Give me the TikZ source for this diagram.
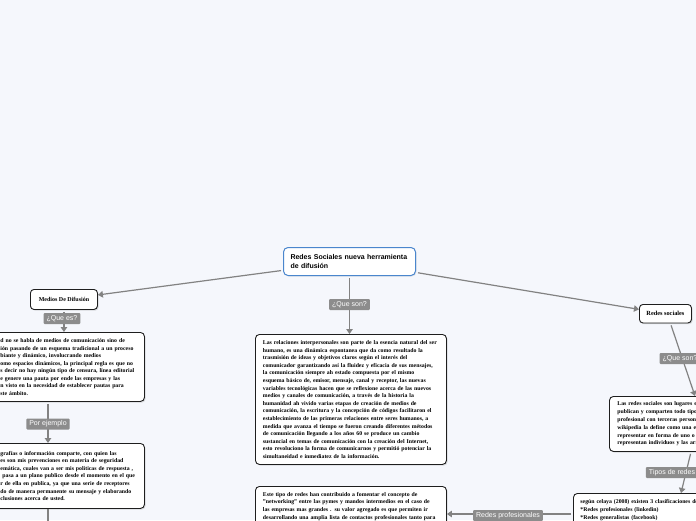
\documentclass[tikz,border=0pt]{standalone}
\usepackage{fontspec}
\setmainfont{Liberation Serif}
\newfontfamily\sansf{Liberation Sans}
\usetikzlibrary{arrows.meta,shadows,calc}
\definecolor{conngray}{RGB}{130,130,130}
\definecolor{lblgray}{RGB}{140,140,140}
\definecolor{cblue}{RGB}{74,134,205}
\definecolor{bordr}{RGB}{30,30,30}
\definecolor{bgtint}{RGB}{245,247,252}
\tikzset{
 conn/.style={draw=conngray, line width=1.2pt, shorten <=2pt, -{Triangle[width=6.5pt,length=5pt]}},
 connplain/.style={draw=conngray, line width=1.2pt},
 lbl/.style={fill=lblgray, text=white, font=\sansf\fontsize{7}{8}\selectfont, rounded corners=1pt, inner xsep=3pt, inner ysep=0pt, minimum height=11pt},
 tbox/.style={draw=bordr, fill=white, line width=0.9pt, rounded corners=4pt, align=left, anchor=north west,
   drop shadow={shadow xshift=1.2pt, shadow yshift=-1.2pt, opacity=0.25}},
 small/.style={draw=bordr, fill=white, line width=0.9pt, rounded corners=3.5pt, anchor=north west, inner sep=0pt,
   drop shadow={shadow xshift=1.2pt, shadow yshift=-1.2pt, opacity=0.25}},
 central/.style={draw=cblue, fill=white, line width=1pt, rounded corners=4.5pt, align=left, anchor=north west,
   font=\sansf\bfseries\fontsize{7}{9}\selectfont, inner xsep=7pt, inner ysep=0pt,
   drop shadow={shadow xshift=1pt, shadow yshift=-1pt, opacity=0.15}}
}
\begin{document}
\begin{tikzpicture}[x=1pt,y=-1pt]
\useasboundingbox (0,0) rectangle (696,520);
\clip (0,0) rectangle (696,520);
\fill[bgtint] (0,0) rectangle (696,520);

% central topic
\node[central, minimum width=132pt, minimum height=28pt, text width=118pt] (c) at (283,247)
  {Redes Sociales nueva herramienta\\de difusión};

% main branches
\node[small, minimum width=67pt, minimum height=20pt, font=\bfseries\fontsize{6}{7}\selectfont] (med) at (30,289) {Medios De Difusión};
\node[small, minimum width=52pt, minimum height=18.5pt, font=\bfseries\fontsize{6.3}{7}\selectfont] (rs) at (639,304) {Redes sociales};

% text boxes
\node[tbox, inner xsep=10pt, text width=134pt, minimum height=69pt, font=\bfseries\fontsize{5.8}{7.45}\selectfont] (b1) at (-10,332)
 {\mbox{d no se habla de medios de comunicación sino de}\\
  \mbox{ión pasando de un esquema tradicional a un proceso}\\
  \mbox{biante y dinámico, involucrando medios}\\
  \mbox{omo espacios dinámicos, la principal regla es que no}\\
  \mbox{s decir no hay ningún tipo de censura, línea editorial}\\
  \mbox{e genere una pauta por ende las empresas y las}\\
  \mbox{n visto en la necesidad de establecer pautas para}\\
  \mbox{ste ámbito.}};

\node[tbox, inner xsep=10pt, text width=134pt, minimum height=65pt, font=\bfseries\fontsize{5.8}{7.6}\selectfont] (b2) at (-10,443)
 {\mbox{grafías o información comparte, con quien las}\\
  \mbox{es son mis prevenciones en materia de seguridad}\\
  \mbox{emática, cuales van a ser mis políticas de respuesta ,}\\
  \mbox{\hspace{2pt}pasa a un plano publico desde el momento en el que}\\
  \mbox{r de ella en publica, ya que una serie de receptores}\\
  \mbox{do de manera permanente su mensaje y elaborando}\\
  \mbox{clusiones acerca de usted.}};

\node[tbox, inner xsep=7.5pt, text width=176pt, minimum height=130pt, font=\bfseries\fontsize{5.8}{7.6}\selectfont] (mb) at (255,334)
 {\mbox{Las relaciones interpersonales son parte de la esencia natural del ser}\\
  \mbox{humano, es una dinámica espontanea que da como resultado la}\\
  \mbox{trasmisión de ideas y objetivos claros según el interés del}\\
  \mbox{comunicador garantizando así la fluidez y eficacia de sus mensajes,}\\
  \mbox{la comunicación siempre ah estado compuesta por el mismo}\\
  \mbox{esquema básico de, emisor, mensaje, canal y receptor, las nuevas}\\
  \mbox{variables tecnológicas hacen que se reflexione acerca de las nuevos}\\
  \mbox{medios y canales de comunicación, a través de la historia la}\\
  \mbox{humanidad ah vivido varias etapas de creación de medios de}\\
  \mbox{comunicación, la escritura y la concepción de códigos facilitaron el}\\
  \mbox{establecimiento de las primeras relaciones entre seres humanos, a}\\
  \mbox{medida que avanza el tiempo se fueron creando diferentes métodos}\\
  \mbox{de comunicación llegando a los años 60 se produce un cambio}\\
  \mbox{sustancial en temas de comunicación con la creación del Internet,}\\
  \mbox{esto revoluciono la forma de comunicarnos y permitió potenciar la}\\
  \mbox{simultaneidad e inmediatez de la información.}};

\node[tbox, inner xsep=7.5pt, text width=176pt, minimum height=40pt, font=\bfseries\fontsize{5.8}{7.8}\selectfont] (bm) at (255,486)
 {\mbox{Este tipo de redes han contribuido a fomentar el concepto de}\\
  \mbox{"networking" entre las pymes y mandos intermedios en el caso de}\\
  \mbox{las empresas mas grandes . su valor agregado es que permiten ir}\\
  \mbox{desarrollando una amplia lista de contactos profesionales tanto para}};

\node[tbox, inner xsep=8pt, text width=150pt, minimum height=55pt, font=\bfseries\fontsize{5.8}{7.8}\selectfont] (r1) at (609,396)
 {\mbox{Las redes sociales son lugares en}\\
  \mbox{publican y comparten todo tipo de}\\
  \mbox{profesional con terceras personas}\\
  \mbox{wikipedia la define como una estructura}\\
  \mbox{representar en forma de uno o varios}\\
  \mbox{representan individuos y las aristas}};

\node[tbox, inner xsep=7pt, text width=150pt, minimum height=34pt, font=\bfseries\fontsize{5.8}{8}\selectfont] (r2) at (573,493)
 {\mbox{según celaya (2008) existen 3 clasificaciones de}\\
  \mbox{*Redes profesionales (linkedin)}\\
  \mbox{*Redes generalistas (facebook)}};

% helper coordinates
\coordinate (lx) at (48,0);
\coordinate (lb) at (48,530);
\coordinate (rp) at (0,514);

% connectors
\draw[conn] (c) -- (med);
\draw[conn] (c) -- (rs);
\draw[conn] (c.south) -- (c.south |- mb.north);
\draw[conn] (med.south) -- (med.south |- b1.north);
\draw[conn] (b1.south -| lx) -- (b2.north -| lx);
\draw[connplain] (b2.south -| lx) -- (lb);
\draw[conn] ($(rs.south)+(5,0)$) -- ($(r1.north west)+(86,0)$);
\draw[conn] ($(r1.south west)+(82,0)$) -- ($(r2.north west)+(108,0)$);
\draw[conn] (r2.west |- rp) -- (bm.east |- rp);

% connector labels
\node[lbl] (l1) at (349.5,304.5) {¿Que son?};
\node[lbl] (l2) at (62,318.5) {¿Que es?};
\node[lbl] (l3) at (48,424) {Por ejemplo};
\node[lbl] (l4) at (680,358.5) {¿Que son?};
\node[lbl] (l5) at (672,472.5) {Tipos de redes};
\node[lbl] (l6) at (508,515.5) {Redes profesionales};
\end{tikzpicture}
\end{document}
